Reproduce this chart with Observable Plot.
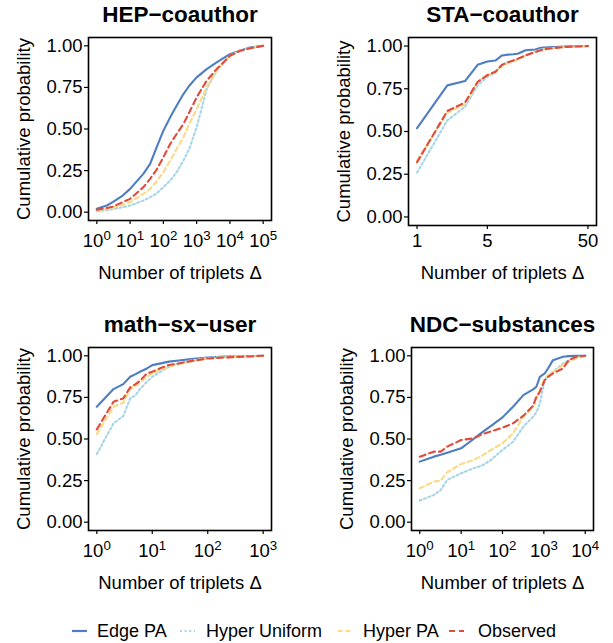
<!DOCTYPE html>
<html><head><meta charset="utf-8">
<script src="https://cdn.jsdelivr.net/npm/d3@7"></script>
<script src="https://cdn.jsdelivr.net/npm/@observablehq/plot@0.6"></script>
<style>
body{margin:0;background:#fff;font-family:"Liberation Sans",Arial,sans-serif;}
#wrap{position:relative;width:613px;height:643px;overflow:hidden;background:#fff;}
.panel{position:absolute;}
.lg{position:absolute;font-size:18px;line-height:18px;color:#000;white-space:nowrap;}
.lk{position:absolute;}
</style></head><body><div id="wrap"></div>
<script>
const seriesNames = ["Edge PA", "Hyper Uniform", "Hyper PA", "Observed"];
const seriesColors = ["#4E7DC2", "#A6D5EA", "#FDD885", "#E04B3B"];
const seriesDash = [null, "2,2.6", "4.5,3.5", "6,4"];

// HEP-coauthor
const hepX = [1, 2, 3, 6, 10, 25, 40, 60, 100, 160, 250, 400, 600, 1000, 2000, 4000, 10000, 20000, 40000, 100000];
const hepEdgePA = [.02, .04, .06, .10, .14, .23, .29, .38, .49, .57, .64, .71, .76, .81, .86, .90, .95, .97, .99, 1.00];
const hepHyperUniform = [.006, .012, .018, .03, .04, .07, .09, .11, .15, .19, .24, .31, .38, .51, .74, .85, .94, .97, .985, 1.00];
const hepHyperPA = [.01, .018, .027, .045, .06, .11, .14, .18, .24, .31, .38, .45, .53, .62, .75, .85, .94, .97, .985, 1.00];
const hepObserved = [.015, .025, .033, .06, .08, .15, .20, .25, .33, .41, .47, .53, .60, .69, .79, .86, .94, .97, .985, 1.00];
const hepTicks = [1, 10, 100, 1000, 10000, 100000];

// STA-coauthor
const staX = [1, 2, 3, 4, 5, 6, 7, 8, 9, 10, 12, 15, 17, 20, 30, 50];
const staEdgePA = [.52, .77, .795, .89, .91, .915, .945, .95, .952, .955, .975, .98, .99, .992, .997, 1.00];
const staHyperUniform = [.26, .565, .645, .77, .82, .845, .89, .905, .915, .925, .945, .97, .98, .985, .995, 1.00];
const staHyperPA = [.33, .61, .66, .79, .83, .845, .885, .90, .91, .92, .945, .965, .975, .985, .995, 1.00];
const staObserved = [.32, .62, .67, .79, .83, .85, .89, .905, .915, .925, .945, .965, .975, .985, .995, 1.00];
const staTicks = [1, 5, 50];

// math-sx-user
const mathX = [1, 2, 3, 4, 5, 6, 8, 10, 15, 20, 30, 50, 100, 200, 1000];
const mathEdgePA = [.694, .80, .83, .874, .89, .904, .924, .944, .956, .965, .972, .98, .99, .995, 1.00];
const mathHyperUniform = [.41, .594, .638, .744, .764, .80, .844, .874, .91, .934, .955, .972, .988, .995, 1.00];
const mathHyperPA = [.53, .694, .718, .80, .82, .84, .874, .894, .92, .934, .95, .968, .984, .99, 1.00];
const mathObserved = [.558, .724, .744, .81, .83, .85, .894, .904, .93, .945, .954, .968, .984, .99, 1.00];
const mathTicks = [1, 10, 100, 1000];

// NDC-substances
const ndcX = [1, 2.2, 3.2, 4.6, 10, 20, 32, 50, 100, 180, 320, 550, 660, 800, 1050, 1260, 1660, 2900, 4000, 6000, 10000];
const ndcEdgePA = [.364, .394, .405, .418, .444, .50, .54, .574, .63, .694, .764, .798, .814, .874, .894, .924, .974, .994, .998, 1.00, 1.00];
const ndcHyperUniform = [.13, .164, .194, .254, .294, .324, .34, .37, .434, .484, .574, .634, .66, .714, .854, .874, .904, .954, .974, .99, 1.00];
const ndcHyperPA = [.204, .244, .25, .30, .35, .374, .40, .43, .474, .534, .634, .694, .74, .794, .864, .884, .904, .944, .964, .984, 1.00];
const ndcObserved = [.394, .424, .424, .454, .494, .504, .528, .544, .568, .594, .64, .70, .754, .784, .854, .874, .894, .924, .974, .994, 1.00];
const ndcTicks = [1, 10, 100, 1000, 10000];

const yTicks = [0, 0.25, 0.5, 0.75, 1];
const xLabel = "Number of triplets \u0394";
const yLabel = "Cumulative probability";

const panels = [
  {title: "HEP\u2212coauthor", x: hepX, ys: [hepEdgePA, hepHyperUniform, hepHyperPA, hepObserved], ticks: hepTicks, sup: true,
   left: 0, top: 0, width: 300, height: 290, mt: 37, mb: 70, ml: 88, mr: 29, domain: [Math.pow(10, -0.25), Math.pow(10, 5.25)], tickPad: 9, xlo: 58},
  {title: "STA\u2212coauthor", x: staX, ys: [staEdgePA, staHyperUniform, staHyperPA, staObserved], ticks: staTicks, sup: false,
   left: 300, top: 0, width: 313, height: 290, mt: 37, mb: 65, ml: 108, mr: 17, domain: [Math.pow(10, -0.085), Math.pow(10, Math.log10(50) + 0.085)], tickPad: 4, xlo: 53},
  {title: "math\u2212sx\u2212user", x: mathX, ys: [mathEdgePA, mathHyperUniform, mathHyperPA, mathObserved], ticks: mathTicks, sup: true,
   left: 0, top: 310, width: 300, height: 290, mt: 37, mb: 70, ml: 88, mr: 29, domain: [Math.pow(10, -0.15), Math.pow(10, 3.15)], tickPad: 9, xlo: 58},
  {title: "NDC\u2212substances", x: ndcX, ys: [ndcEdgePA, ndcHyperUniform, ndcHyperPA, ndcObserved], ticks: ndcTicks, sup: true,
   left: 300, top: 310, width: 313, height: 290, mt: 37, mb: 70, ml: 111, mr: 20, domain: [Math.pow(10, -0.2), Math.pow(10, 4.2)], tickPad: 9, xlo: 58}
];

const wrap = document.getElementById("wrap");
const NS = "http://www.w3.org/2000/svg";

panels.forEach(p => {
  const rows = [];
  seriesNames.forEach((s, i) => p.ys[i].forEach((v, j) => rows.push({x: p.x[j], y: v, s})));
  const fmt = p.sup ? (d => "10^" + Math.round(Math.log10(d))) : (d => String(d));
  const chart = Plot.plot({
    width: p.width, height: p.height,
    marginTop: p.mt, marginBottom: p.mb, marginLeft: p.ml, marginRight: p.mr,
    style: {fontFamily: "Liberation Sans, Arial, sans-serif", fontSize: "18.5px", color: "#000", background: "#fff", overflow: "visible"},
    x: {type: "log", domain: p.domain},
    y: {domain: [-0.05, 1.05]},
    marks: [
      Plot.axisX({ticks: p.ticks, tickFormat: fmt, tickSize: 4, tickPadding: p.tickPad, label: xLabel, labelAnchor: "center", labelOffset: p.xlo, labelArrow: "none", strokeWidth: 1.2}),
      Plot.axisY({ticks: yTicks, tickFormat: d3.format(".2f"), tickSize: 4, tickPadding: 2, label: yLabel, labelAnchor: "center", labelOffset: 72, labelArrow: "none", strokeWidth: 1.2}),
      ...seriesNames.map((s, i) => Plot.line(rows.filter(r => r.s === s), {
        x: "x", y: "y", stroke: seriesColors[i], strokeWidth: 2.1,
        strokeDasharray: seriesDash[i] || undefined
      })),
      Plot.frame({stroke: "#000", strokeWidth: 1.6}),
      Plot.text([p.title], {text: d => d, frameAnchor: "top", dy: -22.5, fontSize: 22.5, fontWeight: "bold", lineAnchor: "middle"})
    ]
  });
  chart.classList.add("panel");
  chart.style.left = p.left + "px";
  chart.style.top = p.top + "px";
  if (p.sup) {
    chart.querySelectorAll('g[aria-label="x-axis tick label"] text').forEach(t => {
      const s = t.textContent;
      if (s.startsWith("10^")) {
        t.textContent = "10";
        const ts = document.createElementNS(NS, "tspan");
        ts.setAttribute("dy", "-0.5em");
        ts.setAttribute("font-size", "0.72em");
        ts.textContent = s.slice(3);
        t.appendChild(ts);
      }
    });
  }
  wrap.appendChild(chart);
});

// legend
const legendKeys = [72, 180, 338, 449];
const legendTexts = [97, 206, 363, 478];
seriesNames.forEach((s, i) => {
  const svg = document.createElementNS(NS, "svg");
  svg.setAttribute("width", 15); svg.setAttribute("height", 6);
  svg.setAttribute("class", "lk");
  svg.style.left = legendKeys[i] + "px"; svg.style.top = "628px";
  const ln = document.createElementNS(NS, "line");
  ln.setAttribute("x1", 0); ln.setAttribute("x2", 15); ln.setAttribute("y1", 3); ln.setAttribute("y2", 3);
  ln.setAttribute("stroke", seriesColors[i]); ln.setAttribute("stroke-width", 2.2);
  if (seriesDash[i]) ln.setAttribute("stroke-dasharray", seriesDash[i]);
  svg.appendChild(ln);
  wrap.appendChild(svg);
  const d = document.createElement("div");
  d.className = "lg"; d.textContent = s;
  d.style.left = legendTexts[i] + "px"; d.style.top = "622px";
  wrap.appendChild(d);
});
</script></body></html>
